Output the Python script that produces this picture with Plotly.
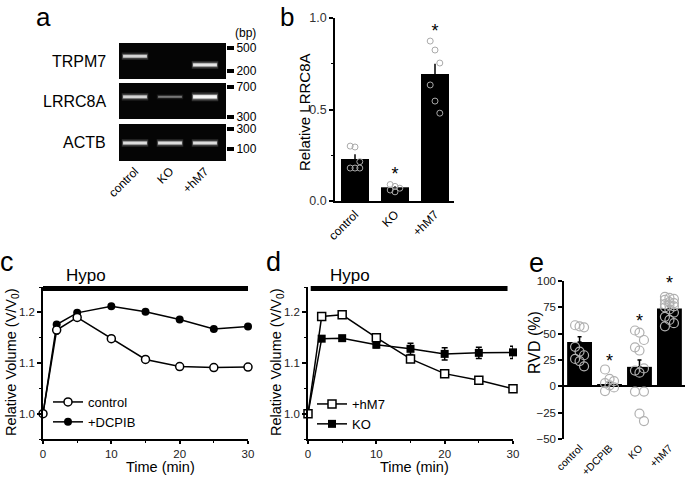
import math
import plotly.graph_objects as go

W, H = 685, 477
FONT = "Liberation Sans, Arial, sans-serif"

# ---------------- data ----------------
# panel a (gel)
gel_names = ["TRPM7", "LRRC8A", "ACTB"]
gel_lanes = ["control", "KO", "+hM7"]
gel_band_bp = [[360, 360, 255], [530, 530, 530], [139, 139, 139]]
gel_band_int = [[0.75, 0.0, 0.85], [0.75, 0.35, 1.0], [0.8, 0.8, 0.8]]
gel_marker_bp = [[500, 200], [700, 300], [300, 100]]

# panel b
b_groups = ["control", "KO", "+hM7"]
b_mean = [0.23, 0.075, 0.694]
b_err = [0.025, 0.006, 0.056]
b_points = [[0.30, 0.295, 0.215, 0.18, 0.18, 0.18],
            [0.09, 0.08, 0.07, 0.06, 0.05],
            [0.874, 0.825, 0.754, 0.634, 0.546, 0.48]]
b_sig = [None, 0.14, 0.92]

# panel c
time_min = [0, 2, 5, 10, 15, 20, 25, 30]
c_control = [1.0, 1.165, 1.19, 1.148, 1.107, 1.093, 1.091, 1.092]
c_control_err = [0, 0.008, 0.004, 0.003, 0.003, 0.003, 0.003, 0.003]
c_dcpib = [1.0, 1.176, 1.199, 1.212, 1.201, 1.186, 1.167, 1.172]
c_dcpib_err = [0, 0.004, 0.004, 0.003, 0.003, 0.003, 0.003, 0.003]

# panel d
d_hm7 = [1.0, 1.192, 1.195, 1.15, 1.108, 1.079, 1.066, 1.049]
d_hm7_err = [0, 0.004, 0.004, 0.005, 0.006, 0.004, 0.004, 0.003]
d_ko = [1.0, 1.148, 1.149, 1.136, 1.128, 1.118, 1.120, 1.121]
d_ko_err = [0, 0.004, 0.004, 0.006, 0.011, 0.012, 0.011, 0.012]
hypo_c = [0, 30]
hypo_d = [0.4, 29.2]

# panel e
e_groups = ["control", "+DCPIB", "KO", "+hM7"]
e_mean = [42, 2.2, 18.5, 74]
e_err = [5, 1.5, 6.5, 2]
e_points = [[58, 57, 56, 37.5, 33, 29.5, 26, 24, 19],
            [16, 7, 5, 3, 1, -1, -4.5],
            [53, 51, 44, 37, 34, 17, 15, 13, -5, -5, -26, -33],
            [85, 84, 83, 82, 80, 79, 78, 77, 76, 75, 73, 70, 66, 63, 60, 57]]
e_sig = [None, 23, 61, 97]


# ---------------- helpers ----------------
def xd(a, b):
    return [a / W, b / W]


def yd(top, bot):
    return [1 - bot / H, 1 - top / H]


def jitter(n, spread):
    return [((i % 3) - 1) * spread for i in range(n)]


fig = go.Figure()
layout = dict(
    width=W, height=H, margin=dict(l=0, r=0, t=0, b=0, autoexpand=False),
    paper_bgcolor="white", plot_bgcolor="white",
    font=dict(family=FONT, color="black", size=12),
    showlegend=True, shapes=[], annotations=[],
)


def text_ann(text, px, py, size, angle=0, xanchor="center", yanchor="middle"):
    layout["annotations"].append(dict(text=text, xref="paper", yref="paper", x=px / W,
                                      y=1 - py / H, xanchor=xanchor, yanchor=yanchor,
                                      textangle=angle, showarrow=False,
                                      font=dict(size=size, family=FONT, color="black")))


axis_style = dict(showline=True, linecolor="black", linewidth=1.5, ticks="outside",
                  tickcolor="black", ticklen=4, tickwidth=1.5, showgrid=False,
                  zeroline=False, automargin=False,
                  tickfont=dict(size=11.5, family=FONT, color="#222"))

# ---------------- panel a: gels ----------------
gel_ydom = [(43, 79), (83, 119), (124, 161)]
gel_yrange = [[2.163, 2.785], [2.452, 2.894], [1.714, 2.596]]
for g in range(3):
    ax = "" if g == 0 else str(g + 1)
    xk, yk = "x" + ax, "y" + ax
    for li in range(3):
        inten = gel_band_int[g][li]
        if inten <= 0:
            continue
        yv = math.log10(gel_band_bp[g][li])
        core = 1.2 + 2.2 * inten
        for w, a, half in [(core * 2.6, 0.18 * inten, 0.38), (core * 1.6, 0.35 * inten, 0.36),
                           (core, min(1.0, 1.05 * inten), 0.34)]:
            fig.add_trace(go.Scatter(
                x=[li - half, li + half], y=[yv, yv], mode="lines",
                line=dict(color=f"rgba(245,245,245,{a:.2f})", width=w),
                xaxis=xk, yaxis=yk, showlegend=False, hoverinfo="skip"))
    layout["xaxis" + ax] = dict(domain=xd(119, 226), range=[-0.457, 2.6], showline=False,
                                showgrid=False, zeroline=False, ticks="", automargin=False,
                                showticklabels=(g == 2), anchor=yk,
                                tickvals=[0, 1, 2], ticktext=gel_lanes, tickangle=-45,
                                tickfont=dict(size=12, family=FONT, color="black"))
    layout["yaxis" + ax] = dict(domain=yd(*gel_ydom[g]), range=gel_yrange[g], side="right",
                                anchor=xk, showline=False, showgrid=False, zeroline=False,
                                automargin=False,
                                ticks="outside", ticklen=7, tickwidth=4, tickcolor="black",
                                tickvals=[math.log10(v) for v in gel_marker_bp[g]],
                                ticktext=[str(v) for v in gel_marker_bp[g]],
                                tickfont=dict(size=12, family=FONT, color="black"))
    layout["shapes"].append(dict(type="rect", xref=xk + " domain", yref=yk + " domain",
                                 x0=0, x1=1, y0=0, y1=1, fillcolor="#050505",
                                 line=dict(width=0), layer="below"))
    layout["annotations"].append(dict(text=gel_names[g], xref=xk + " domain", yref=yk + " domain",
                                      x=-0.1, y=0.5, xanchor="right", yanchor="middle",
                                      showarrow=False, font=dict(size=16, family=FONT)))
text_ann("(bp)", 233, 33, 12, xanchor="left")

# ---------------- panel b ----------------
fig.add_trace(go.Bar(x=[0, 1, 2], y=b_mean, width=0.7, marker=dict(color="black", line=dict(width=0)),
                     error_y=dict(type="data", array=b_err, arrayminus=[0] * 3, symmetric=False,
                                  color="black", thickness=1.5, width=0),
                     xaxis="x4", yaxis="y4", showlegend=False))
for i, pts in enumerate(b_points):
    fig.add_trace(go.Scatter(x=[i + o for o in jitter(len(pts), 0.12)], y=pts, mode="markers",
                             marker=dict(symbol="circle-open", size=6, color="#aaaaaa",
                                         line=dict(width=1)),
                             xaxis="x4", yaxis="y4", showlegend=False, cliponaxis=False))
fig.add_trace(go.Scatter(x=[i for i, s in enumerate(b_sig) if s is not None],
                         y=[s for s in b_sig if s is not None], mode="text", text=["*"] * 2,
                         textposition="middle center",
                         textfont=dict(size=18, family=FONT), xaxis="x4", yaxis="y4",
                         showlegend=False, cliponaxis=False))
layout["xaxis4"] = dict(axis_style, domain=xd(335, 454), range=[-0.5, 2.475], anchor="y4",
                        tickvals=[0, 1, 2], ticktext=b_groups, tickangle=-45, ticks="",
                        tickfont=dict(size=12, family=FONT, color="black"))
layout["yaxis4"] = dict(axis_style, domain=yd(18, 201), range=[0, 1.0], anchor="x4",
                        tickvals=[0, 0.5, 1.0], ticktext=["0.0", "0.5", "1.0"],
                        tickfont=dict(size=12.5, family=FONT, color="#333"),
                        minor=dict(dtick=0.25, ticks="outside", ticklen=2.5, tickcolor="black",
                                   tickwidth=1.2))
text_ann("Relative LRRC8A", 305, 112, 15, angle=-90)

# ---------------- panel c ----------------
fig.add_trace(go.Scatter(x=time_min, y=c_dcpib, mode="lines+markers", name="+DCPIB",
                         line=dict(color="black", width=1.5),
                         marker=dict(symbol="circle", size=8, color="black"),
                         error_y=dict(type="data", array=c_dcpib_err, color="black",
                                      thickness=1.2, width=2),
                         xaxis="x5", yaxis="y5", legend="legend", cliponaxis=False,
                         legendrank=2))
fig.add_trace(go.Scatter(x=time_min, y=c_control, mode="lines+markers", name="control",
                         line=dict(color="black", width=1.5),
                         marker=dict(symbol="circle", size=8, color="white",
                                     line=dict(color="black", width=1.5)),
                         error_y=dict(type="data", array=c_control_err, color="black",
                                      thickness=1.2, width=2),
                         xaxis="x5", yaxis="y5", legend="legend", cliponaxis=False,
                         legendrank=1))

# ---------------- panel d ----------------
fig.add_trace(go.Scatter(x=time_min, y=d_ko, mode="lines+markers", name="KO",
                         line=dict(color="black", width=1.5),
                         marker=dict(symbol="square", size=8, color="black"),
                         error_y=dict(type="data", array=d_ko_err, color="black",
                                      thickness=1.5, width=3),
                         xaxis="x6", yaxis="y6", legend="legend2", cliponaxis=False,
                         legendrank=2))
fig.add_trace(go.Scatter(x=time_min, y=d_hm7, mode="lines+markers", name="+hM7",
                         line=dict(color="black", width=1.5),
                         marker=dict(symbol="square", size=8, color="white",
                                     line=dict(color="black", width=1.5)),
                         error_y=dict(type="data", array=d_hm7_err, color="black",
                                      thickness=1.2, width=2),
                         xaxis="x6", yaxis="y6", legend="legend2", cliponaxis=False,
                         legendrank=1))

for ax, (x0, x1), hypo, hx, tx, yx in [("5", (43, 248), hypo_c, 86, 160, 12),
                                       ("6", (308, 513), hypo_d, 350, 414, 277)]:
    layout["xaxis" + ax] = dict(axis_style, domain=xd(x0, x1), range=[0, 30], anchor="y" + ax,
                                tickvals=[0, 10, 20, 30], ticklen=3,
                                minor=dict(dtick=5, ticks="outside", ticklen=2.5,
                                           tickcolor="black", tickwidth=1.2))
    layout["yaxis" + ax] = dict(axis_style, domain=yd(287, 439), range=[0.95, 1.25],
                                anchor="x" + ax, tickvals=[1.0, 1.1, 1.2],
                                ticktext=["1.0", "1.1", "1.2"],
                                minor=dict(dtick=0.05, ticks="outside", ticklen=2.5,
                                           tickcolor="black", tickwidth=1.2))
    layout["shapes"].append(dict(type="line", xref="x" + ax, yref="y" + ax + " domain",
                                 x0=hypo[0], x1=hypo[1], y0=0.99, y1=0.99,
                                 line=dict(color="black", width=5)))
    text_ann("Hypo", hx, 275, 17)
    text_ann("Time (min)", tx, 467, 14.5)
    text_ann("Relative Volume (V/V<sub>0</sub>)", yx, 362, 14.5, angle=-90)

legend_common = dict(bgcolor="rgba(0,0,0,0)", font=dict(size=13, family=FONT), itemwidth=30,
                     tracegroupgap=0, xanchor="left", yanchor="top", traceorder="normal")
layout["legend"] = dict(legend_common, x=48 / W, y=1 - 387 / H)
layout["legend2"] = dict(legend_common, x=312 / W, y=1 - 389 / H)

# ---------------- panel e ----------------
fig.add_trace(go.Bar(x=[0, 1, 2, 3], y=e_mean, width=0.83,
                     marker=dict(color="black", line=dict(width=0)),
                     error_y=dict(type="data", array=e_err, arrayminus=[0] * 4, symmetric=False,
                                  color="black", thickness=1.5, width=2),
                     xaxis="x7", yaxis="y7", showlegend=False))
for i, pts in enumerate(e_points):
    fig.add_trace(go.Scatter(x=[i + o for o in jitter(len(pts), 0.15)], y=pts, mode="markers",
                             marker=dict(symbol="circle-open", size=9, color="#b0b0b0",
                                         line=dict(width=1.2)),
                             xaxis="x7", yaxis="y7", showlegend=False, cliponaxis=False))
fig.add_trace(go.Scatter(x=[i for i, s in enumerate(e_sig) if s is not None],
                         y=[s for s in e_sig if s is not None], mode="text", text=["*"] * 3,
                         textposition="middle center",
                         textfont=dict(size=18, family=FONT), xaxis="x7", yaxis="y7",
                         showlegend=False, cliponaxis=False))
layout["xaxis7"] = dict(axis_style, domain=xd(564, 685), range=[-0.52, 3.52], anchor="y7",
                        showline=False, ticks="", tickvals=[0, 1, 2, 3], ticktext=e_groups,
                        tickangle=-45, tickfont=dict(size=10.5, family=FONT, color="black"))
layout["yaxis7"] = dict(axis_style, domain=yd(281, 439), range=[-50, 100], anchor="x7",
                        tickvals=[-50, -25, 0, 25, 50, 75, 100], zeroline=True,
                        zerolinecolor="black", zerolinewidth=1.5)
text_ann("RVD (%)", 534, 343, 16, angle=-90)

# ---------------- panel letters ----------------
for letter, px, py in [("a", 43, 0), ("b", 287, 0)]:
    text_ann(letter, px, py, 26, yanchor="top")
for letter, px, py in [("c", 7, 262), ("d", 273, 262), ("e", 536, 263)]:
    text_ann(letter, px, py, 27)

fig.update_layout(**layout)
fig.write_html("out.html", config={"displayModeBar": False},
               post_script="document.body.style.margin='0';")
